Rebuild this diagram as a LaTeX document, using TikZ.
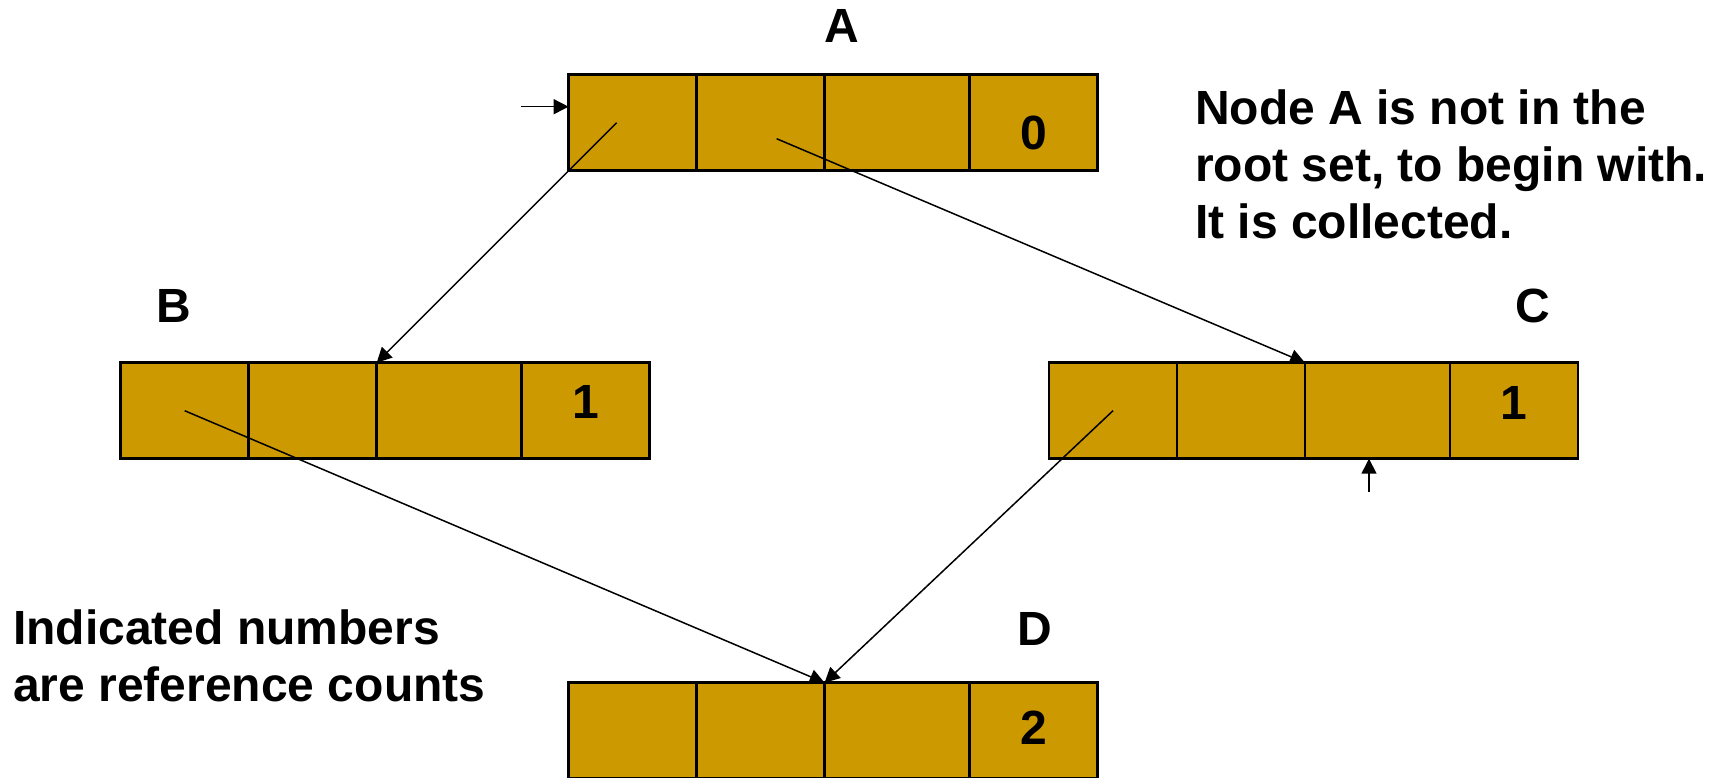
\documentclass[tikz,border=0pt]{standalone}
\usepackage{fontspec}
\setmainfont{Liberation Sans}
\usetikzlibrary{arrows.meta,positioning}
\definecolor{recgold}{RGB}{204,153,0}

% one record: name, top left corner, reference count, shift of the count
\newcommand{\record}[4]{%
    \node [cell, minimum width=128pt, anchor=north west] (#1a) at (#2) {};
    \node [cell, minimum width=128pt, right=0pt of #1a] (#1b) {};
    \node [cell, minimum width=145pt, right=0pt of #1b] (#1c) {};
    \node [cell, minimum width=128pt, right=0pt of #1c] (#1d) {};
    \node [count] (#1n) at ([yshift=#4]#1d.center) {#3};
}

\begin{document}
\begin{tikzpicture}[x=1pt, y=-1pt]
    \tikzstyle{cell}=[draw, line width=2.5pt, fill=recgold, minimum height=96pt, inner sep=0pt, outer sep=0pt]
    \tikzstyle{count}=[inner sep=0pt, font=\fontsize{48}{57}\selectfont\bfseries]
    \tikzstyle{lbl}=[inner sep=0pt, anchor=base, font=\fontsize{48}{57}\selectfont\bfseries]
    \tikzstyle{note}=[inner sep=0pt, anchor=north west, align=left, font=\fontsize{48}{57}\selectfont\bfseries]
    \tikzstyle{ptr}=[line width=1.5pt, -{Triangle[length=15pt, width=15pt]}]

    \useasboundingbox (0,0) rectangle (1721,777);

% The following code draws the four records and their reference counts.

    \record{A}{568.6,74.7}{0}{-10pt}
    \record{B}{120.7,362.7}{1}{9pt}
    \record{C}{1049,362.7}{1}{8pt}
    \record{D}{568.6,682.7}{2}{3pt}

    \node [lbl] (labA) at (842,42.7) {A};
    \node [lbl] (labB) at (174,322) {B};
    \node [lbl] (labC) at (1533,322) {C};
    \node [lbl] (labD) at (1035,645) {D};

    \node [note] (noteA) at (1195,90) {Node A is not in the\\root set, to begin with.\\It is collected.};
    \node [note] (noteN) at (13,610) {Indicated numbers\\are reference counts};

    \coordinate (inA) at (520.7,106.7);
    \coordinate (inC) at (1369,491.7);

    \draw [ptr] (inA) -- (Aa.west |- inA);
    \draw [ptr] (inC) -- (inC |- Cc.south);
    \draw [ptr] ([xshift=-16pt]Aa.center) -- (Bb.north east);
    \draw [ptr] ([shift={(16pt,-16pt)}]Ab.center) -- (Cb.north east);
    \draw [ptr] (Ba.center) -- (Db.north east);
    \draw [ptr] (Ca.center) -- (Db.north east);

\end{tikzpicture}
\end{document}
